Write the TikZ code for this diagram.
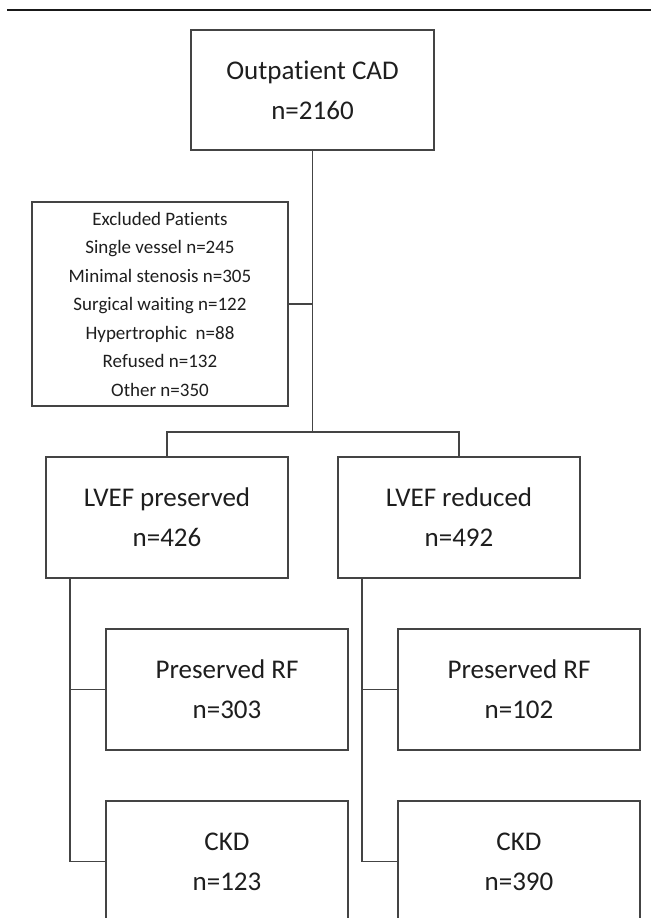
\documentclass[tikz,border=0pt]{standalone}
\usepackage{fontspec}
\setmainfont{Carlito}[Ligatures=NoCommon]
\definecolor{linecol}{HTML}{444444}
\definecolor{txtcol}{HTML}{1E1E1E}
\begin{document}
\begin{tikzpicture}[x=1pt,y=-1pt,
  conn/.style={draw=linecol, line width=1.3pt},
  bigbox/.style={draw=linecol, line width=1.3pt, minimum width=242pt, minimum height=121pt,
    inner sep=0pt, align=center, text=txtcol, font=\fontsize{27}{40}\selectfont},
  exclbox/.style={draw=linecol, line width=1.3pt, minimum width=256pt, minimum height=204pt,
    inner sep=0pt, align=center, text=txtcol, font=\fontsize{19}{28.5}\selectfont},
  rulebar/.style={draw=black!90, line width=2.2pt}]
\useasboundingbox (0,0) rectangle (651,918);
\clip (0,0) rectangle (651,918);
\fill[white] (0,0) rectangle (651,918);
\path[rulebar] (7,10) -- (651,10);

\node[bigbox, minimum width=243pt, minimum height=120pt] (top) at (312.5,90) {Outpatient CAD\\n=2160};
\node[exclbox] (excl) at (160,304) {Excluded Patients\\Single vessel n=245\\Minimal stenosis n=305\\Surgical waiting n=122\\Hypertrophic~ n=88\\Refused n=132\\Other n=350};
\node[bigbox] (lp) at (167,517.5) {LVEF preserved\\n=426};
\node[bigbox] (lr) at (459,517.5) {LVEF reduced\\n=492};
\node[bigbox] (rf1) at (227,689.5) {Preserved RF\\n=303};
\node[bigbox] (ckd1) at (227,861.5) {CKD\\n=123};
\node[bigbox] (rf2) at (519,689.5) {Preserved RF\\n=102};
\node[bigbox] (ckd2) at (519,861.5) {CKD\\n=390};

\coordinate (split) at (312.5,432);
\coordinate (lpdrop) at ([xshift=-97pt]lp.south);
\coordinate (lrdrop) at ([xshift=-97pt]lr.south);

\draw[conn] (top.south) -- (split);
\draw[conn] (excl.east) -- (excl.east -| top.south);
\draw[conn] (lp.north) -- (lp.north |- split) -- (lr.north |- split) -- (lr.north);
\draw[conn] (lpdrop) -- (lpdrop |- ckd1.west) -- (ckd1.west);
\draw[conn] (lpdrop |- rf1.west) -- (rf1.west);
\draw[conn] (lrdrop) -- (lrdrop |- ckd2.west) -- (ckd2.west);
\draw[conn] (lrdrop |- rf2.west) -- (rf2.west);
\end{tikzpicture}
\end{document}
